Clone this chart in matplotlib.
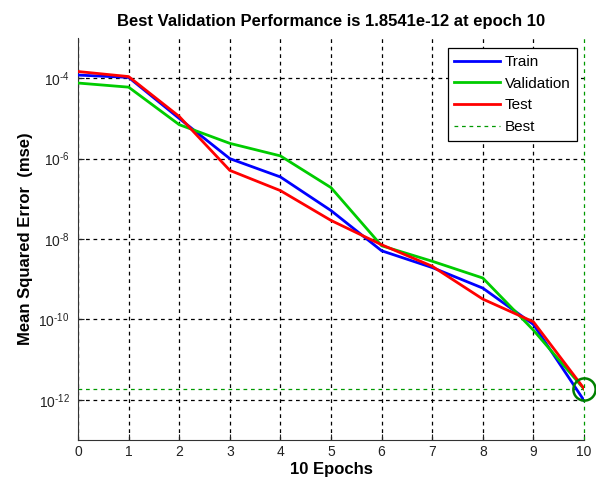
import numpy as np
import matplotlib
matplotlib.use('Agg')
import matplotlib.pyplot as plt
from matplotlib.ticker import FixedLocator, NullLocator

plt.rcParams['font.family'] = ['Liberation Sans', 'DejaVu Sans']
plt.rcParams['mathtext.fontset'] = 'custom'
plt.rcParams['mathtext.rm'] = 'Liberation Sans'

# Data
epochs = np.arange(0, 11)
train = [1.2e-4, 1.05e-4, 1.0e-5, 1.0e-6, 3.5e-7, 5.1e-8, 5.1e-9, 1.95e-9, 6.0e-10, 7.5e-11, 9.6e-13]
valid = [7.6e-5, 6.0e-5, 7.0e-6, 2.4e-6, 1.17e-6, 1.9e-7, 6.8e-9, 2.8e-9, 1.07e-9, 5.4e-11, 1.8541e-12]
test = [1.47e-4, 1.1e-4, 1.12e-5, 5.1e-7, 1.6e-7, 2.9e-8, 7.2e-9, 2.1e-9, 3.2e-10, 8.7e-11, 1.9e-12]
best_epoch = 10
best_perf = 1.8541e-12
ytick_vals = [1e-12, 1e-10, 1e-8, 1e-6, 1e-4]
ytick_labels = [r'$10^{\text{-12}}$', r'$10^{\text{-10}}$', r'$10^{\text{-8}}$',
                r'$10^{\text{-6}}$', r'$10^{\text{-4}}$']

fig = plt.figure(figsize=(5.96, 4.86), dpi=100)
ax = fig.add_axes([0.1309, 0.0947, 0.849, 0.827])

ax.semilogy(epochs, train, color=(0, 0, 1), lw=2, label='Train', zorder=3)
ax.semilogy(epochs, valid, color=(0, 0.8, 0), lw=2, label='Validation', zorder=3)
ax.semilogy(epochs, test, color=(1, 0, 0), lw=2, label='Test', zorder=3)
ax.axvline(best_epoch, color=(0, 0.6, 0), ls=(0, (3, 3)), lw=0.9, label='Best',
           zorder=2.5, clip_on=False)
ax.axhline(best_perf, color=(0, 0.6, 0), ls=(0, (3, 3)), lw=0.9, zorder=2)
ax.plot([best_epoch], [best_perf], 'o', ms=16, mfc='none', mec=(0, 0.5, 0), mew=1.8,
        zorder=4, clip_on=False)

ax.set_xlim(0, 10)
ax.set_ylim(1e-13, 1e-3)
ax.set_xticks(range(0, 11))
ax.yaxis.set_major_locator(FixedLocator(ytick_vals))
ax.yaxis.set_minor_locator(NullLocator())
ax.set_yticklabels(ytick_labels)
ax.tick_params(direction='in', length=4, labelsize=10, colors='#222222')
ax.tick_params(axis='y', pad=6)

ax.grid(True, color='black', ls=(0, (3, 3)), lw=0.9)
ax.set_axisbelow(True)
# hide the black grid line under the green "best" line at x = 10
ax.xaxis.get_gridlines()[-1].set_visible(False)
ax.spines['top'].set_visible(False)
ax.spines['right'].set_visible(False)
ax.spines['left'].set_color('#333333')
ax.spines['bottom'].set_color('#333333')

ax.set_title('Best Validation Performance is 1.8541e-12 at epoch 10',
             fontsize=12, fontweight='bold', pad=9)
ax.set_xlabel('10 Epochs', fontsize=12, fontweight='bold', labelpad=2)
ax.set_ylabel('Mean Squared Error  (mse)', fontsize=12, fontweight='bold', labelpad=4)

leg = ax.legend(loc='upper right', bbox_to_anchor=(0.987, 0.975), fancybox=False,
                framealpha=1, edgecolor='black', fontsize=11, handlelength=3.0,
                borderpad=0.45, labelspacing=0.5, handletextpad=0.3, borderaxespad=0)
leg.get_frame().set_linewidth(0.9)

fig.savefig('out.png', dpi=100)
